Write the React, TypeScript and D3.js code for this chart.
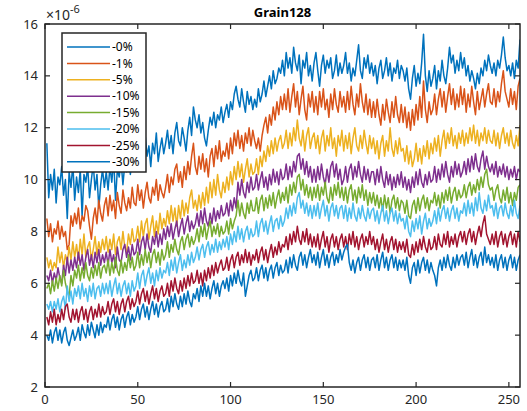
import React from "react";
import * as d3 from "d3";

// Series labels and MATLAB default colour order
const seriesLabels = ["-0%", "-1%", "-5%", "-10%", "-15%", "-20%", "-25%", "-30%"];
const seriesColors = ["#0072BD", "#D95319", "#EDB120", "#7E2F8E", "#77AC30", "#4DBEEE", "#A2142F", "#0072BD"];

// Values in units of 1e-6, one per round (x = 1..256)
const p0 = [
  11.4, 9.3, 10.2, 9.6, 10.4, 9.1, 10.1, 9.8, 10.5, 9.4, 10.0, 8.5, 10.3, 9.7, 10.6, 9.2,
  10.1, 9.5, 10.4, 8.6, 10.2, 9.9, 10.5, 9.3, 10.0, 10.6, 9.6, 10.2, 8.9, 9.8, 10.4, 9.7,
  10.3, 9.6, 10.5, 9.9, 10.8, 9.2, 10.4, 10.1, 10.7, 9.8, 10.6, 10.3, 11.0, 10.2, 10.8, 10.5,
  10.9, 11.5, 10.6, 11.2, 10.8, 11.7, 10.9, 11.3, 10.5, 11.4, 11.0, 11.8, 10.7, 11.2, 11.6, 11.0,
  11.4, 11.9, 11.2, 11.7, 11.0, 11.8, 12.2, 11.5, 11.3, 12.0, 11.6, 11.1, 11.9, 12.4, 11.7, 12.8,
  12.3, 12.0, 12.5, 11.8, 12.2, 11.6, 11.3, 11.9, 12.4, 12.1, 12.6, 12.0, 12.5, 12.3, 12.8, 12.2,
  12.6, 12.9, 12.4, 13.0, 12.7, 13.3, 13.6, 13.1, 12.8, 13.5, 13.0, 12.6, 13.4, 12.9, 13.2, 12.7,
  13.1, 12.8, 13.5, 13.0, 13.3, 13.8, 13.2, 13.6, 14.0, 13.5, 14.2, 13.7, 13.9, 14.3, 14.1, 14.6,
  14.0, 14.9, 14.3, 14.7, 14.1, 15.1, 14.5, 14.2, 14.8, 13.7, 14.6, 14.3, 14.9, 14.0, 14.4, 13.8,
  14.5, 14.9, 14.2, 13.6, 14.4, 14.8, 14.1, 14.6, 14.3, 14.7, 13.9, 14.2, 14.8, 14.0, 14.5, 14.1,
  14.4, 14.9, 14.1, 14.5, 13.8, 14.3, 14.0, 14.6, 15.2, 14.2, 13.9, 14.7, 14.3, 14.8, 14.1, 14.5,
  14.0, 14.4, 13.7, 14.3, 14.6, 13.9, 14.2, 14.7, 14.0, 14.5, 13.8, 14.3, 14.1, 14.6, 13.9, 14.4,
  14.2, 13.8, 14.3, 13.5, 13.1, 13.9, 14.4, 13.6, 14.1, 13.7, 14.5, 15.6, 14.0, 13.4, 14.2, 13.6,
  13.9, 14.4, 13.5, 14.2, 13.8, 14.6, 14.0, 13.7, 14.3, 15.1, 14.5, 14.8, 14.1, 14.6, 14.2, 14.9,
  14.3, 14.7, 14.0, 14.4, 13.8, 14.2, 13.9, 13.5, 14.1, 13.7, 14.3, 14.0, 14.6, 14.2, 14.8, 14.4,
  14.1, 14.5, 14.0, 14.6, 14.3, 14.8, 15.5, 14.7, 14.2, 14.4, 14.0, 14.5, 13.9, 14.6, 14.3, 15.4,
];
const p1 = [
  8.5, 7.8, 8.3, 7.6, 8.1, 7.9, 8.4, 7.7, 8.2, 7.8, 8.0, 7.3, 7.5, 8.6, 8.2, 8.7,
  8.3, 8.9, 8.1, 8.6, 8.4, 9.0, 8.8, 8.2, 7.7, 8.5, 8.9, 8.3, 9.2, 8.7, 8.4, 9.0,
  9.3, 8.6, 9.4, 8.8, 9.2, 8.5, 9.5, 9.0, 8.7, 9.6, 9.1, 8.8, 9.3, 8.9, 9.7, 9.1,
  9.0, 9.8, 9.2, 9.6, 8.9, 9.5, 9.9, 9.3, 9.1, 9.7, 9.4, 10.0, 9.2, 9.8, 9.5, 9.3,
  9.7, 10.2, 9.5, 10.1, 9.8, 10.4, 10.6, 9.9, 10.3, 9.7, 10.5, 10.0, 10.7, 10.2, 10.9, 11.4,
  10.5, 10.2, 10.9, 10.4, 11.0, 10.3, 10.8, 10.1, 10.9, 11.2, 10.5, 11.3, 10.8, 11.5, 10.7, 11.1,
  10.9, 11.4, 10.8, 11.6, 11.0, 11.8, 11.3, 11.9, 11.2, 11.7, 11.1, 11.8, 11.4, 12.0, 11.3, 11.9,
  11.5, 11.2, 11.6, 11.1, 11.7, 12.1, 12.4, 11.8, 12.5, 12.1, 12.8, 12.3, 13.0, 12.5, 13.2, 12.7,
  13.3, 12.7, 13.5, 12.6, 13.2, 13.7, 12.8, 13.4, 12.5, 13.1, 13.6, 12.7, 12.3, 13.3, 12.8, 13.4,
  12.6, 13.2, 12.5, 13.4, 12.8, 13.5, 12.7, 13.1, 12.4, 13.3, 12.7, 13.5, 12.9, 12.6, 13.4, 12.8,
  13.2, 12.6, 13.4, 12.7, 13.6, 12.9, 12.5, 13.3, 12.8, 13.7, 13.0, 12.6, 13.3, 12.5, 13.1, 12.4,
  13.0, 12.4, 13.1, 12.5, 12.1, 12.9, 12.3, 13.1, 12.6, 12.2, 13.0, 12.4, 13.2, 12.5, 12.2, 12.9,
  12.2, 12.8, 12.0, 12.6, 11.9, 12.7, 12.1, 12.9, 12.3, 13.2, 12.4, 13.8, 12.7, 12.2, 13.0, 12.5,
  12.7, 13.3, 12.5, 13.1, 13.5, 12.8, 13.4, 12.6, 13.2, 13.7, 12.9, 13.5, 12.7, 13.3, 12.8, 13.6,
  12.9, 13.5, 12.6, 13.3, 12.8, 13.6, 13.0, 12.5, 13.4, 12.7, 13.1, 13.5, 12.8, 13.3, 13.7, 13.0,
  12.9, 13.5, 12.8, 13.4, 13.0, 13.7, 14.2, 13.4, 13.1, 12.8, 13.5, 12.9, 13.4, 12.7, 13.6, 13.9,
];
const p5 = [
  7.0, 6.6, 6.9, 6.5, 6.8, 6.6, 7.4, 6.8, 7.2, 6.6, 7.1, 6.8, 7.4, 6.9, 7.6, 7.0,
  7.5, 6.9, 7.7, 7.1, 7.9, 7.0, 7.4, 7.6, 6.9, 7.3, 7.8, 7.1, 7.6, 7.2, 7.7, 7.3,
  7.8, 7.2, 7.7, 7.3, 7.9, 7.1, 7.6, 7.8, 7.3, 8.0, 7.4, 7.2, 7.9, 7.5, 8.1, 7.6,
  7.7, 8.2, 7.6, 8.4, 7.8, 8.3, 8.5, 7.7, 8.2, 8.6, 7.8, 8.4, 7.9, 8.7, 8.1, 8.5,
  8.2, 8.8, 8.3, 9.0, 8.4, 8.9, 8.2, 9.0, 8.5, 9.2, 8.6, 9.1, 8.7, 9.3, 9.6, 8.9,
  9.2, 8.8, 9.4, 8.9, 9.5, 9.0, 9.7, 9.1, 9.9, 9.3, 10.0, 9.4, 10.2, 9.6, 9.3, 9.9,
  9.5, 10.1, 9.6, 10.3, 9.8, 10.5, 10.0, 10.7, 10.1, 10.6, 9.9, 10.4, 10.8, 10.1, 10.6, 10.2,
  10.3, 10.8, 10.2, 10.9, 10.5, 11.1, 10.7, 11.3, 10.9, 11.5, 11.0, 11.6, 11.1, 11.5, 11.7, 11.2,
  11.4, 11.9, 11.2, 11.8, 11.3, 12.0, 11.5, 12.3, 11.6, 11.3, 11.9, 11.1, 11.7, 12.0, 11.2, 11.6,
  11.8, 11.2, 11.7, 11.0, 11.6, 11.9, 11.1, 11.7, 11.3, 12.0, 11.2, 11.6, 10.9, 11.7, 11.3, 11.9,
  11.1, 11.7, 11.2, 11.8, 11.0, 11.6, 12.0, 11.3, 11.1, 11.7, 11.2, 11.9, 11.4, 11.0, 11.7, 11.2,
  11.6, 11.0, 11.5, 10.8, 11.4, 11.7, 10.9, 11.5, 11.1, 12.0, 11.2, 10.9, 11.5, 11.0, 11.6, 11.1,
  11.2, 10.7, 11.3, 10.6, 11.1, 10.5, 10.8, 11.4, 10.7, 11.2, 10.6, 11.3, 10.9, 11.5, 10.8, 11.4,
  11.0, 11.6, 11.1, 11.7, 10.9, 11.5, 11.9, 11.2, 11.8, 11.4, 12.0, 11.3, 11.7, 11.2, 11.8, 11.4,
  11.9, 11.3, 11.8, 11.4, 12.0, 11.5, 12.1, 11.4, 11.9, 11.3, 11.8, 11.5, 12.0, 11.4, 11.9, 11.5,
  11.4, 11.9, 11.3, 11.8, 11.2, 11.7, 12.0, 11.4, 11.8, 11.3, 11.9, 11.4, 11.2, 11.7, 11.3, 12.1,
];
const p10 = [
  6.3, 6.1, 6.5, 6.0, 6.4, 6.1, 6.6, 6.2, 6.0, 6.7, 6.3, 7.0, 6.4, 6.9, 6.5, 7.0,
  6.6, 7.2, 6.7, 7.1, 6.5, 7.0, 7.3, 6.7, 7.1, 6.6, 7.2, 6.8, 7.3, 6.7, 7.1, 6.8,
  7.2, 6.7, 7.3, 6.8, 7.1, 6.6, 7.4, 6.9, 6.8, 7.3, 7.5, 7.0, 7.4, 6.9, 7.5, 7.1,
  7.2, 7.7, 7.1, 7.6, 7.8, 7.3, 7.9, 7.4, 7.2, 7.8, 7.5, 8.0, 7.4, 7.9, 7.5, 8.1,
  7.7, 8.2, 7.8, 8.3, 7.7, 8.1, 8.4, 7.8, 8.2, 8.5, 7.9, 8.3, 8.6, 8.0, 8.4, 8.1,
  8.3, 8.7, 8.2, 8.8, 8.3, 8.9, 8.4, 8.2, 8.7, 8.3, 8.9, 8.4, 8.8, 8.5, 9.0, 8.6,
  8.7, 9.1, 8.6, 9.2, 8.8, 9.3, 8.9, 9.9, 9.4, 10.0, 9.5, 9.3, 9.9, 9.5, 10.1, 9.6,
  9.7, 10.2, 9.6, 10.0, 10.3, 9.7, 10.1, 9.6, 10.2, 9.8, 10.4, 9.9, 10.3, 9.8, 10.4, 10.0,
  10.1, 10.6, 10.0, 10.5, 10.1, 10.7, 10.3, 10.9, 11.0, 10.4, 10.8, 10.2, 10.7, 10.1, 10.5, 9.9,
  10.4, 9.9, 10.5, 10.0, 10.6, 10.1, 9.8, 10.4, 9.9, 10.5, 10.7, 10.1, 10.6, 10.0, 10.4, 9.8,
  10.0, 10.5, 9.9, 10.4, 10.6, 10.0, 10.5, 10.1, 10.7, 10.2, 9.9, 10.5, 10.0, 10.4, 9.9, 10.3,
  10.3, 9.8, 10.4, 9.9, 10.5, 10.0, 9.7, 10.3, 9.8, 10.2, 9.6, 10.1, 9.7, 10.2, 9.8, 10.3,
  9.7, 10.1, 9.6, 10.0, 9.5, 10.1, 9.7, 10.3, 9.8, 10.4, 9.9, 9.7, 10.2, 9.8, 10.3, 9.9,
  10.0, 10.5, 9.9, 10.4, 10.0, 10.6, 10.1, 10.7, 10.2, 9.9, 10.5, 10.1, 10.7, 10.2, 10.6, 10.1,
  10.3, 10.7, 10.2, 10.8, 10.3, 10.9, 10.4, 11.0, 10.5, 10.3, 10.8, 11.1, 10.4, 10.9, 10.5, 10.3,
  10.6, 10.2, 10.7, 10.1, 10.5, 10.2, 10.6, 10.1, 10.5, 10.0, 10.4, 10.1, 10.5, 10.0, 10.4, 10.3,
];
const p15 = [
  5.8, 6.0, 5.6, 6.1, 5.7, 6.2, 5.8, 6.3, 5.9, 6.5, 6.0, 5.7, 5.5, 6.3, 5.9, 6.5,
  6.2, 6.7, 6.1, 6.6, 6.2, 6.8, 6.3, 6.1, 6.6, 6.2, 6.7, 6.3, 6.8, 6.2, 6.6, 6.7,
  6.4, 6.9, 6.3, 6.8, 6.4, 7.0, 6.5, 6.3, 6.9, 6.4, 6.8, 6.5, 7.1, 6.6, 7.0, 6.5,
  6.7, 7.2, 6.6, 7.1, 6.7, 7.3, 6.8, 7.2, 6.6, 7.1, 7.3, 6.8, 7.2, 6.7, 7.3, 6.9,
  7.1, 7.6, 7.0, 7.5, 7.2, 7.7, 7.3, 7.1, 7.6, 7.8, 7.3, 7.7, 7.9, 7.4, 7.8, 7.5,
  7.7, 8.1, 7.6, 8.2, 7.8, 8.3, 7.7, 8.1, 8.4, 7.8, 8.2, 7.9, 8.3, 7.8, 8.2, 7.9,
  8.0, 8.4, 7.9, 8.5, 8.1, 8.4, 8.6, 9.2, 8.6, 9.1, 8.7, 8.5, 9.1, 8.7, 9.2, 8.8,
  8.8, 9.3, 8.7, 9.2, 9.4, 8.8, 9.3, 8.9, 9.4, 9.0, 9.5, 8.9, 9.3, 9.6, 9.1, 9.5,
  9.2, 9.7, 9.1, 9.8, 9.4, 9.9, 9.5, 10.1, 10.2, 9.6, 10.0, 9.4, 9.8, 9.3, 9.7, 9.2,
  9.7, 9.3, 9.8, 9.2, 9.7, 9.4, 9.9, 9.3, 9.1, 9.7, 9.2, 9.8, 9.4, 9.9, 9.3, 9.7,
  9.2, 9.7, 9.1, 9.6, 9.8, 9.2, 9.6, 9.1, 9.7, 9.3, 9.8, 9.2, 9.6, 9.0, 9.5, 9.1,
  9.5, 9.0, 9.4, 8.9, 9.3, 8.8, 9.4, 8.9, 9.3, 8.7, 9.2, 9.4, 8.9, 9.3, 8.8, 9.2,
  9.1, 8.7, 9.2, 8.6, 8.5, 9.0, 9.2, 8.7, 9.3, 8.8, 9.2, 9.4, 8.9, 9.3, 8.8, 9.2,
  9.1, 9.5, 9.0, 9.4, 8.9, 9.5, 9.1, 9.6, 9.2, 9.7, 9.1, 9.5, 9.7, 9.2, 9.6, 9.3,
  9.4, 9.8, 9.3, 9.7, 9.9, 9.4, 9.8, 9.5, 10.0, 9.6, 10.1, 9.7, 10.2, 10.4, 9.8, 9.6,
  9.7, 9.2, 9.6, 9.8, 9.3, 9.1, 9.6, 9.2, 9.7, 9.1, 9.5, 9.0, 9.5, 9.2, 9.7, 9.8,
];
const p20 = [
  5.2, 5.0, 5.3, 4.9, 5.3, 5.0, 5.4, 4.9, 5.3, 5.5, 5.0, 5.9, 5.3, 5.7, 5.2, 5.8,
  5.5, 5.9, 5.4, 6.0, 5.5, 5.8, 5.3, 5.9, 5.5, 6.0, 5.4, 5.8, 5.9, 5.5, 6.0, 5.6,
  6.0, 5.6, 6.1, 5.5, 5.9, 6.2, 5.6, 6.0, 5.5, 5.9, 6.1, 5.6, 6.0, 5.5, 6.1, 5.7,
  5.9, 6.4, 5.8, 6.3, 6.5, 5.9, 6.3, 6.6, 6.0, 6.4, 5.9, 6.5, 6.1, 6.6, 6.2, 6.5,
  6.4, 6.8, 6.3, 6.9, 6.5, 7.0, 6.4, 6.8, 7.1, 6.5, 6.9, 6.6, 7.1, 6.7, 7.2, 6.8,
  7.0, 7.4, 6.9, 7.3, 7.5, 7.0, 7.4, 7.6, 7.1, 7.5, 7.2, 7.7, 7.2, 7.6, 7.3, 7.7,
  7.4, 7.8, 7.3, 7.9, 7.5, 8.0, 7.6, 8.2, 7.7, 8.1, 7.6, 8.0, 8.2, 7.7, 8.1, 7.8,
  7.9, 8.4, 7.8, 8.3, 8.5, 8.0, 8.4, 7.9, 8.3, 8.6, 8.0, 8.4, 8.5, 8.1, 8.6, 8.2,
  8.4, 8.9, 8.5, 9.0, 8.6, 9.1, 8.7, 9.3, 9.5, 8.9, 9.2, 8.7, 9.1, 8.6, 9.0, 8.5,
  9.0, 8.6, 9.1, 8.5, 8.9, 9.2, 8.6, 9.0, 8.4, 8.9, 9.1, 8.6, 9.0, 8.5, 8.9, 9.0,
  8.5, 9.0, 8.4, 8.9, 8.5, 9.1, 8.6, 8.4, 8.9, 8.5, 9.0, 8.6, 8.4, 8.9, 8.5, 8.8,
  8.9, 8.4, 8.8, 8.3, 8.7, 9.0, 8.4, 8.8, 8.3, 8.7, 8.9, 8.4, 8.8, 8.3, 8.7, 8.4,
  8.5, 8.1, 8.6, 8.0, 7.8, 8.4, 8.0, 8.5, 8.1, 8.6, 7.9, 8.4, 8.7, 8.1, 8.5, 8.2,
  8.4, 8.8, 8.3, 8.9, 8.4, 8.8, 9.0, 8.5, 8.9, 8.4, 8.8, 9.0, 8.5, 8.9, 8.4, 8.8,
  8.7, 9.1, 8.6, 9.2, 8.7, 9.1, 8.6, 9.3, 8.8, 9.5, 8.9, 8.7, 9.2, 8.8, 9.4, 8.9,
  9.0, 8.6, 9.1, 8.5, 8.9, 9.0, 8.6, 9.1, 8.7, 8.5, 9.0, 8.6, 9.2, 8.7, 8.5, 9.0,
];
const p25 = [
  4.7, 4.4, 4.9, 4.5, 5.0, 4.4, 4.8, 4.5, 5.0, 4.6, 5.1, 5.2, 4.7, 4.5, 5.0, 4.6,
  5.0, 4.5, 4.9, 5.1, 4.6, 5.0, 4.5, 4.9, 5.1, 4.6, 5.0, 4.7, 5.2, 4.7, 5.1, 4.8,
  4.9, 5.3, 4.8, 5.2, 5.4, 4.9, 5.3, 4.8, 5.2, 5.4, 4.9, 5.3, 5.5, 5.0, 5.4, 5.1,
  5.3, 5.7, 5.2, 5.6, 5.8, 5.3, 5.7, 5.2, 5.6, 5.9, 5.4, 5.8, 5.3, 5.7, 5.9, 5.5,
  5.6, 6.0, 5.5, 6.1, 5.7, 6.2, 5.8, 5.6, 6.1, 5.7, 6.2, 5.8, 6.3, 5.9, 6.4, 6.0,
  6.1, 6.5, 6.0, 6.4, 5.9, 6.5, 6.1, 6.6, 6.2, 6.7, 6.3, 6.8, 6.4, 6.7, 6.9, 6.5,
  6.6, 7.0, 6.5, 6.9, 7.1, 6.6, 7.0, 7.2, 6.7, 7.1, 6.8, 7.3, 6.8, 7.2, 6.7, 7.1,
  6.9, 7.3, 6.8, 7.2, 7.4, 6.9, 7.3, 6.8, 7.2, 7.5, 7.0, 7.4, 7.1, 7.6, 7.2, 7.5,
  7.4, 7.8, 7.3, 7.9, 7.5, 8.0, 7.6, 8.2, 7.7, 7.5, 8.0, 7.6, 8.1, 7.5, 7.9, 7.4,
  7.8, 7.4, 7.9, 7.3, 7.7, 8.0, 7.4, 7.8, 7.2, 7.7, 7.9, 7.4, 7.8, 7.3, 7.7, 7.9,
  7.4, 7.8, 7.3, 7.9, 7.5, 8.0, 7.4, 7.8, 7.3, 7.7, 7.9, 7.4, 7.8, 7.5, 8.0, 7.5,
  7.8, 7.3, 7.7, 7.2, 7.6, 7.9, 7.3, 7.7, 7.2, 7.6, 7.8, 7.3, 7.7, 7.2, 7.6, 7.3,
  7.6, 7.2, 7.7, 7.1, 7.0, 7.5, 7.1, 7.6, 7.2, 7.7, 7.3, 7.8, 7.4, 7.2, 7.7, 7.3,
  7.4, 7.8, 7.3, 7.9, 7.5, 7.4, 7.9, 7.5, 8.0, 7.4, 7.8, 7.5, 7.9, 7.4, 7.8, 8.0,
  7.6, 8.0, 7.5, 7.9, 8.1, 7.6, 8.0, 7.5, 7.9, 8.2, 7.8, 8.3, 8.6, 7.9, 7.7, 7.5,
  7.9, 7.5, 8.0, 7.4, 7.8, 8.0, 7.5, 7.9, 7.4, 7.8, 8.0, 7.5, 7.9, 7.4, 8.0, 7.6,
];
const p30 = [
  4.0, 3.8, 4.2, 3.7, 4.1, 4.3, 3.8, 4.2, 3.7, 4.1, 4.3, 3.8, 3.6, 3.9, 4.2, 3.8,
  4.0, 4.3, 3.8, 4.4, 4.1, 3.9, 4.4, 4.0, 4.5, 4.2, 3.9, 4.4, 4.0, 4.5, 4.1, 4.4,
  4.3, 4.7, 4.2, 4.6, 4.8, 4.3, 4.7, 4.2, 4.6, 4.8, 4.3, 4.7, 4.9, 4.4, 4.8, 4.5,
  4.7, 5.1, 4.6, 5.0, 5.2, 4.7, 5.1, 4.6, 5.0, 5.3, 4.8, 5.2, 4.7, 5.1, 5.3, 4.9,
  5.0, 5.4, 4.9, 5.5, 5.1, 5.6, 5.2, 5.0, 5.5, 5.1, 5.6, 5.2, 5.7, 5.3, 5.1, 5.6,
  5.4, 5.8, 5.3, 5.9, 5.5, 6.0, 5.5, 5.9, 5.4, 5.8, 6.1, 5.6, 6.0, 5.5, 5.9, 6.1,
  5.8, 6.2, 5.7, 6.3, 5.9, 6.4, 6.0, 6.5, 6.1, 5.9, 6.4, 5.5, 5.9, 6.3, 6.5, 6.1,
  6.2, 6.6, 6.1, 6.5, 6.7, 6.2, 6.6, 6.1, 6.5, 6.7, 6.2, 6.6, 6.8, 6.3, 6.7, 6.4,
  6.5, 6.9, 6.4, 7.0, 6.6, 7.1, 6.7, 6.5, 7.0, 7.2, 6.7, 7.1, 6.6, 7.0, 7.3, 6.8,
  7.1, 6.7, 7.2, 6.6, 7.0, 7.3, 6.7, 7.1, 6.6, 7.0, 7.2, 6.7, 7.1, 6.8, 7.3, 6.9,
  7.2, 7.4, 7.5, 6.8, 6.5, 6.9, 6.4, 6.8, 7.0, 6.5, 6.9, 7.1, 6.6, 7.0, 6.5, 6.9,
  7.0, 6.6, 7.1, 6.5, 6.9, 7.2, 6.6, 7.0, 6.5, 6.9, 7.1, 6.6, 7.0, 6.5, 6.9, 6.6,
  6.9, 6.5, 7.0, 6.3, 6.0, 6.6, 6.8, 6.3, 6.9, 6.4, 6.8, 7.0, 6.5, 6.9, 6.4, 6.8,
  6.5, 6.3, 5.9, 6.6, 6.9, 6.5, 7.0, 6.6, 7.1, 6.7, 6.5, 7.0, 6.6, 7.1, 6.7, 7.0,
  7.1, 6.7, 7.2, 6.6, 7.0, 7.3, 6.7, 7.1, 6.6, 7.0, 7.2, 6.7, 7.4, 6.8, 7.1, 6.7,
  7.0, 6.6, 7.1, 6.5, 6.9, 7.1, 6.6, 7.0, 6.5, 6.9, 7.1, 6.6, 7.0, 6.5, 6.9, 7.1,
];

const seriesValues = [p0, p1, p5, p10, p15, p20, p25, p30];

const xTicks = [0, 50, 100, 150, 200, 250];
const yTicks = [2, 4, 6, 8, 10, 12, 14, 16];
const chartTitle = "Grain128";

const W = 527;
const H = 411;
const AX = { left: 45, right: 520, top: 24, bottom: 387 };
const FONT = "'Noto Sans', 'DejaVu Sans', sans-serif";
const AXIS_COLOR = "#262626";

export default function App() {
  const x = d3.scaleLinear().domain([0, 256]).range([AX.left, AX.right]);
  const y = d3.scaleLinear().domain([2, 16]).range([AX.bottom, AX.top]);
  const line = d3
    .line<number>()
    .x((_, i) => x(i + 1))
    .y((d) => y(d));

  const tickLen = 5;
  const legend = { x: 62, y: 33, w: 84, h: 139, row: 16.4 };

  return (
    <svg
      width={W}
      height={H}
      viewBox={`0 0 ${W} ${H}`}
      style={{ position: "absolute", left: 0, top: 0, background: "#fff", display: "block" }}
      fontFamily={FONT}
    >
      <defs>
        <clipPath id="plot-clip">
          <rect x={AX.left} y={AX.top} width={AX.right - AX.left} height={AX.bottom - AX.top} />
        </clipPath>
      </defs>

      <g clipPath="url(#plot-clip)" fill="none" strokeWidth={1.5} strokeLinejoin="round">
        {seriesValues.map((vals, k) => (
          <path key={k} d={line(vals) ?? ""} stroke={seriesColors[k]} />
        ))}
      </g>

      {/* axes box */}
      <rect
        x={AX.left}
        y={AX.top}
        width={AX.right - AX.left}
        height={AX.bottom - AX.top}
        fill="none"
        stroke={AXIS_COLOR}
        strokeWidth={1.5}
      />

      {/* x ticks (bottom and top, inward) */}
      {xTicks.map((t) => (
        <g key={`xt${t}`} stroke={AXIS_COLOR} strokeWidth={1.2}>
          <line x1={x(t)} x2={x(t)} y1={AX.bottom} y2={AX.bottom - tickLen} />
          <line x1={x(t)} x2={x(t)} y1={AX.top} y2={AX.top + tickLen} />
        </g>
      ))}
      {xTicks.map((t) => (
        <text
          key={`xl${t}`}
          x={x(t)}
          y={AX.bottom + 17}
          textAnchor="middle"
          fontSize={13}
          fill={AXIS_COLOR}
        >
          {t}
        </text>
      ))}

      {/* y ticks (left and right, inward) */}
      {yTicks.map((t) => (
        <g key={`yt${t}`} stroke={AXIS_COLOR} strokeWidth={1.2}>
          <line x1={AX.left} x2={AX.left + tickLen} y1={y(t)} y2={y(t)} />
          <line x1={AX.right} x2={AX.right - tickLen} y1={y(t)} y2={y(t)} />
        </g>
      ))}
      {yTicks.map((t) => (
        <text
          key={`yl${t}`}
          x={AX.left - 7}
          y={y(t)}
          dy="0.35em"
          textAnchor="end"
          fontSize={13}
          fill={AXIS_COLOR}
        >
          {t}
        </text>
      ))}

      {/* exponent label */}
      <text x={AX.left + 1} y={AX.top - 4} fontSize={14} fill={AXIS_COLOR}>
        ×10
        <tspan dy={-7} fontSize={11}>
          -6
        </tspan>
      </text>

      {/* title */}
      <text
        x={(AX.left + AX.right) / 2}
        y={AX.top - 7}
        textAnchor="middle"
        fontSize={13}
        fontWeight="bold"
        fill="#000"
      >
        {chartTitle}
      </text>

      {/* legend */}
      <g>
        <rect
          x={legend.x}
          y={legend.y}
          width={legend.w}
          height={legend.h}
          fill="#fff"
          stroke={AXIS_COLOR}
          strokeWidth={1.5}
        />
        {seriesLabels.map((lab, k) => {
          const cy = legend.y + 14 + k * legend.row;
          return (
            <g key={lab}>
              <line
                x1={legend.x + 5}
                x2={legend.x + 48}
                y1={cy}
                y2={cy}
                stroke={seriesColors[k]}
                strokeWidth={1.5}
              />
              <text x={legend.x + 50} y={cy} dy="0.35em" fontSize={12} fill="#000">
                {lab}
              </text>
            </g>
          );
        })}
      </g>
    </svg>
  );
}
